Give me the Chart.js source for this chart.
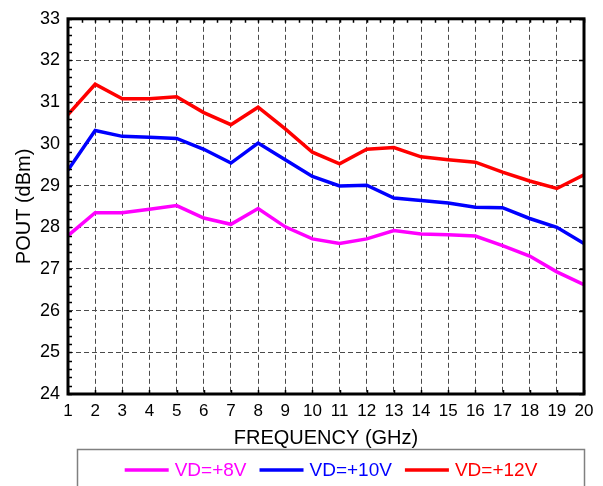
<!DOCTYPE html>
<html>
<head>
<meta charset="utf-8">
<script src="https://cdn.jsdelivr.net/npm/chart.js@4/dist/chart.umd.min.js"></script>
<style>
  html, body { margin: 0; padding: 0; background: #fff; }
  #wrap { width: 603px; height: 486px; position: relative; }
</style>
</head>
<body>
<div id="wrap"><canvas id="c" width="603" height="486"></canvas></div>
<script>
const frequencies = [1,2,3,4,5,6,7,8,9,10,11,12,13,14,15,16,17,18,19,20];
const vd8  = [27.80,28.35,28.35,28.43,28.52,28.22,28.07,28.45,28.01,27.72,27.61,27.72,27.92,27.84,27.82,27.79,27.56,27.31,26.93,26.62];
const vd10 = [29.37,30.32,30.18,30.16,30.13,29.87,29.54,30.02,29.62,29.22,28.99,29.01,28.70,28.64,28.58,28.48,28.47,28.21,28.00,27.61];
const vd12 = [30.70,31.43,31.08,31.08,31.13,30.75,30.46,30.88,30.36,29.80,29.52,29.87,29.91,29.69,29.62,29.56,29.32,29.11,28.93,29.26];
const seriesLabels = ['VD=+8V','VD=+10V','VD=+12V'];
const seriesColors = ['#ff00ff','#0000ff','#ff0000'];
const xTitle = 'FREQUENCY (GHz)';
const yTitle = 'POUT (dBm)';

const FONT = "'Liberation Sans', Arial, sans-serif";

function pts(arr) { return frequencies.map((f, i) => ({x: f, y: arr[i]})); }

const framePlugin = {
  id: 'frame',
  afterDatasetsDraw(chart) {
    const {ctx, chartArea: a, scales: {x, y}} = chart;
    ctx.save();
    ctx.strokeStyle = '#000';
    ctx.lineWidth = 1.5;
    ctx.beginPath();
    // minor ticks left edge every 0.2
    for (let k = 0; k <= 45; k++) {
      const v = 24 + k * 0.2;
      const py = Math.round(y.getPixelForValue(v)) + 0.5;
      ctx.moveTo(a.left, py); ctx.lineTo(a.left + 4, py);
    }
    // right edge major ticks
    for (let v = 24; v <= 33; v += 1) {
      const py = Math.round(y.getPixelForValue(v)) + 0.5;
      ctx.moveTo(a.right, py); ctx.lineTo(a.right - 5, py);
    }
    // top edge ticks every 0.5
    for (let k = 0; k <= 38; k++) {
      const v = 1 + k * 0.5;
      const px = Math.round(x.getPixelForValue(v)) + 0.5;
      ctx.moveTo(px, a.top); ctx.lineTo(px, a.top + 4);
    }
    // bottom edge ticks every 1
    for (let v = 1; v <= 20; v += 1) {
      const px = Math.round(x.getPixelForValue(v)) + 0.5;
      ctx.moveTo(px, a.bottom); ctx.lineTo(px, a.bottom - 4);
    }
    ctx.stroke();
    // frame
    ctx.lineWidth = 3;
    ctx.strokeRect(a.left, a.top, a.right - a.left, a.bottom - a.top);
    ctx.restore();

    // legend box
    ctx.save();
    ctx.strokeStyle = '#808080';
    ctx.lineWidth = 1.5;
    ctx.strokeRect(77.5, 449.5, 507, 60);
    ctx.font = '19px ' + FONT;
    ctx.textBaseline = 'middle';
    const lineLen = 44, gapLT = 6, gapTL = 13;
    const widths = chart.data.datasets.map(d => ctx.measureText(d.label).width);
    let total = 0;
    widths.forEach((w, i) => { total += lineLen + gapLT + w + (i < widths.length - 1 ? gapTL : 0); });
    let cx = (77 + 585) / 2 - total / 2;
    const cy = 470;
    chart.data.datasets.forEach((d, i) => {
      ctx.strokeStyle = d.borderColor;
      ctx.lineWidth = 3.5;
      ctx.beginPath();
      ctx.moveTo(cx, cy); ctx.lineTo(cx + lineLen, cy);
      ctx.stroke();
      cx += lineLen + gapLT;
      ctx.fillStyle = d.borderColor;
      ctx.fillText(d.label, cx, cy + 1);
      cx += widths[i] + gapTL;
    });
    ctx.restore();
  }
};

new Chart(document.getElementById('c'), {
  type: 'line',
  data: {
    datasets: [vd8, vd10, vd12].map((arr, i) => ({
      label: seriesLabels[i],
      data: pts(arr),
      borderColor: seriesColors[i],
      backgroundColor: seriesColors[i],
      borderWidth: 3.5,
      pointRadius: 0,
      tension: 0,
      fill: false
    }))
  },
  options: {
    responsive: false,
    animation: false,
    devicePixelRatio: 1,
    layout: { padding: { left: 0, right: 19, top: 11, bottom: 36 } },
    plugins: { legend: { display: false }, tooltip: { enabled: false } },
    scales: {
      x: {
        type: 'linear', min: 1, max: 20,
        ticks: { stepSize: 1, color: '#000', padding: 7, maxRotation: 0, autoSkip: false,
                 font: { family: FONT, size: 17 } },
        grid: { color: '#4a4a4a', lineWidth: 1, drawTicks: false },
        border: { display: false, dash: [5, 3] },
        title: { display: true, text: xTitle, color: '#000', padding: {top: 0, bottom: 0},
                 font: { family: FONT, size: 20 } },
        afterFit(s) { s.height = 56; }
      },
      y: {
        min: 24, max: 33,
        ticks: { stepSize: 1, color: '#000', padding: 8, font: { family: FONT, size: 18 } },
        grid: { color: '#4a4a4a', lineWidth: 1, drawTicks: false },
        border: { display: false, dash: [5, 3] },
        title: { display: true, text: yTitle, color: '#000', padding: {top: 12, bottom: 0},
                 font: { family: FONT, size: 20 } },
        afterFit(s) { s.width = 68; }
      }
    }
  },
  plugins: [framePlugin]
});
</script>
</body>
</html>
